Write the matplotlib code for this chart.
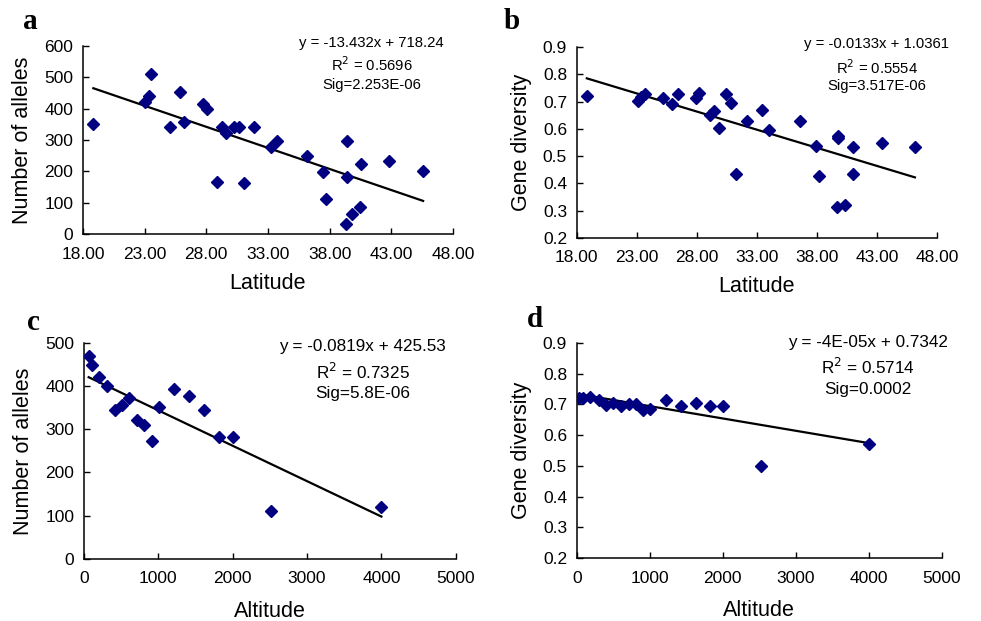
import matplotlib
matplotlib.use("Agg")
import matplotlib.pyplot as plt
import numpy as np

plt.rcParams['font.family'] = ['Liberation Sans', 'DejaVu Sans']

# panel a: latitude vs number of alleles
lat_a = [18.84, 23.0, 23.35, 23.54, 25.05, 25.84, 26.22, 27.73, 28.05, 28.86,
         29.24, 29.57, 30.22, 30.65, 31.05, 31.89, 33.22, 33.73, 36.19, 37.46,
         37.68, 39.38, 39.38, 39.30, 39.86, 40.46, 40.57, 42.86, 45.59]
alleles_a = [351, 422, 442, 510, 343, 454, 359, 416, 399, 167,
             343, 324, 343, 343, 163, 343, 278, 297, 249, 198,
             111, 297, 182, 33, 65, 85, 222, 233, 202]

# panel b: latitude vs gene diversity
lat_b = [18.83, 23.13, 23.32, 23.66, 25.18, 25.90, 26.43, 27.93, 28.20, 29.06,
         29.42, 29.81, 30.45, 30.84, 31.28, 32.19, 33.41, 34.05, 36.60, 37.96,
         38.16, 39.68, 39.79, 39.74, 40.35, 41.04, 41.04, 43.40, 46.17]
div_b = [0.722, 0.704, 0.717, 0.727, 0.715, 0.692, 0.727, 0.712, 0.732, 0.650,
         0.666, 0.605, 0.727, 0.696, 0.433, 0.628, 0.668, 0.597, 0.628, 0.538,
         0.428, 0.312, 0.573, 0.568, 0.321, 0.533, 0.433, 0.547, 0.533]

# panel c: altitude vs number of alleles
alt_c = [63, 108, 202, 314, 413, 507, 601, 713, 812, 910,
         1013, 1215, 1408, 1619, 1816, 2000, 2520, 4000]
alleles_c = [469, 449, 421, 400, 344, 357, 373, 321, 309, 272,
             352, 394, 377, 344, 282, 282, 110, 120]

# panel d: altitude vs gene diversity
alt_d = [32, 91, 187, 301, 406, 502, 607, 721, 813, 913,
         1000, 1224, 1425, 1635, 1826, 2000, 2520, 4000]
div_d = [0.721, 0.721, 0.723, 0.713, 0.698, 0.704, 0.694, 0.700, 0.700, 0.681,
         0.686, 0.714, 0.695, 0.704, 0.695, 0.695, 0.500, 0.571]

# fitted lines (slope, intercept) and annotation text
fits = [(-13.432, 718.24), (-0.0133, 1.0361), (-0.0819, 425.53), (-4e-05, 0.7342)]
notes = [["y = -13.432x + 718.24", "R$^2$ = 0.5696", "Sig=2.253E-06"],
         ["y = -0.0133x + 1.0361", "R$^2$ = 0.5554", "Sig=3.517E-06"],
         ["y = -0.0819x + 425.53", "R$^2$ = 0.7325", "Sig=5.8E-06"],
         ["y = -4E-05x + 0.7342", "R$^2$ = 0.5714", "Sig=0.0002"]]

fig = plt.figure(figsize=(9.81, 6.21), dpi=100)

boxes = [[0.0846, 0.623, 0.377, 0.303],
         [0.588, 0.617, 0.367, 0.307],
         [0.0856, 0.100, 0.379, 0.348],
         [0.588, 0.101, 0.372, 0.347]]
xs = [lat_a, lat_b, alt_c, alt_d]
ys = [alleles_a, div_b, alleles_c, div_d]
xlabels = ["Latitude", "Latitude", "Altitude", "Altitude"]
ylabels = ["Number of alleles", "Gene diversity", "Number of alleles", "Gene diversity"]
letters = ["a", "b", "c", "d"]
note_x = [0.78, 0.833, 0.75, 0.797]
note_y = [[1.016, 0.899, 0.793], [1.016, 0.895, 0.796],
          [0.981, 0.866, 0.764], [1.0, 0.888, 0.781]]
note_size = [10.7, 10.7, 12.3, 12.3]
xlabel_pad = [8, 8, 10.5, 10.5]
letter_pos = [(0.023, 0.953), (0.513, 0.953), (0.028, 0.468), (0.537, 0.473)]

for i in range(4):
    ax = fig.add_axes(boxes[i])
    x = np.array(xs[i])
    y = np.array(ys[i])
    ax.plot(x, y, 'D', color='#000080', ms=5.8, zorder=3)
    m, b = fits[i]
    lx = np.array([x.min(), x.max()])
    ax.plot(lx, m * lx + b, color='black', lw=1.6, zorder=2)

    if i < 2:
        ax.set_xlim(18, 48)
        ax.set_xticks(np.arange(18, 49, 5))
        ax.set_xticklabels([f"{t:.2f}" for t in np.arange(18, 49, 5)])
    else:
        ax.set_xlim(0, 5000)
        ax.set_xticks(np.arange(0, 5001, 1000))
    if i == 0:
        ax.set_ylim(0, 600)
        ax.set_yticks(np.arange(0, 601, 100))
    elif i == 2:
        ax.set_ylim(0, 500)
        ax.set_yticks(np.arange(0, 501, 100))
    else:
        ax.set_ylim(0.2, 0.9)
        ax.set_yticks(np.arange(0.2, 0.91, 0.1))
        ax.set_yticklabels([f"{t:.1f}" for t in np.arange(0.2, 0.91, 0.1)])

    for s in ['top', 'right']:
        ax.spines[s].set_visible(False)
    for s in ['left', 'bottom']:
        ax.spines[s].set_linewidth(1.1)
    ax.tick_params(direction='in', length=4, width=1, labelsize=12.5, pad=7)
    ax.tick_params(axis='x', pad=9)
    ax.set_xlabel(xlabels[i], fontsize=15.5, labelpad=xlabel_pad[i])
    ax.set_ylabel(ylabels[i], fontsize=15.5, labelpad=8)

    for j, t in enumerate(notes[i]):
        ax.text(note_x[i], note_y[i][j], t, transform=ax.transAxes, ha='center',
                va='center', fontsize=note_size[i], clip_on=False)
    fig.text(letter_pos[i][0], letter_pos[i][1], letters[i], fontsize=21,
             fontweight='bold', family='Liberation Serif', va='baseline')

fig.savefig("out.png", dpi=100)
